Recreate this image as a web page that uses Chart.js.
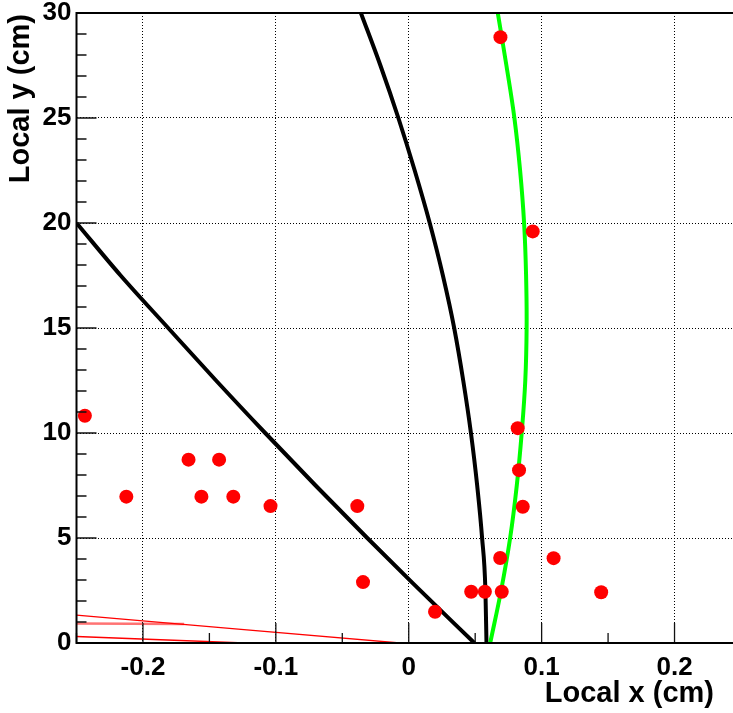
<!DOCTYPE html>
<html>
<head>
<meta charset="utf-8">
<script src="https://cdn.jsdelivr.net/npm/chart.js@4"></script>
<style>
  html, body { margin: 0; padding: 0; background: #fff; overflow: hidden; }
  #plot { display: block; }
</style>
</head>
<body>
<canvas id="plot" width="740" height="713"></canvas>
<script>
// axis ranges and ticks
const xMin = -0.25
const xMax = 0.244
const yMin = 0
const yMax = 30
const xTickValues = [-0.2, -0.1, 0, 0.1, 0.2]
const xTickLabels = ['-0.2', '-0.1', '0', '0.1', '0.2']
const yTickValues = [0, 5, 10, 15, 20, 25, 30]
const yTickLabels = ['0', '5', '10', '15', '20', '25', '30']
const xMinorStep = 0.05
const yMinorStep = 1
const xTitle = 'Local x (cm)'
const yTitle = 'Local y (cm)'

// red hits
const hitX = [-0.2437, -0.2125, -0.1657, -0.1427, -0.156, -0.132, -0.104, -0.0387, -0.0344, 0.0198,
              0.047, 0.0573, 0.070, 0.0688, 0.109, 0.1448, 0.0858, 0.083, 0.082, 0.0933, 0.069]
const hitY = [10.82, 6.97, 8.73, 8.73, 6.97, 6.97, 6.52, 6.52, 2.9, 1.49,
              2.44, 2.44, 2.44, 4.05, 4.04, 2.42, 6.49, 8.23, 10.23, 19.6, 28.85]

// green fitted track
const fitX = [0.067, 0.0735, 0.0795, 0.0838, 0.0868, 0.0883, 0.0887, 0.0877, 0.085, 0.0813, 0.0763, 0.0695, 0.0613]
const fitY = [30, 27.5, 25, 22.5, 20, 17.5, 15, 12.5, 10, 7.5, 5, 2.5, 0]

// black candidate tracks
const trackAX = [-0.25, -0.2168, -0.181, -0.145, -0.108, -0.0701, -0.0312, 0.003, 0.0494]
const trackAY = [20, 17.5, 15, 12.5, 10, 7.5, 5, 2.85, 0]
const trackBX = [-0.036, -0.0213, -0.0078, 0.0045, 0.0158, 0.0257, 0.0342, 0.041, 0.0468, 0.0515, 0.0552, 0.0577, 0.0585]
const trackBY = [30, 27.5, 25, 22.5, 20, 17.5, 15, 12.5, 10, 7.5, 5, 2.5, 0]

// thin red segments near the bottom
const segAX = [-0.25, -0.0068]
const segAY = [1.33, 0]
const segBX = [-0.25, -0.169]
const segBY = [0.93, 0.91]
const segCX = [-0.25, -0.1235]
const segCY = [0.31, 0]

const fontFamily = '"Liberation Sans", Arial, sans-serif'

function toPoints(xs, ys) {
    return xs.map((v, i) => ({x: v, y: ys[i]}))
}

function curve(xs, ys, color, width, mode) {
    return {
        data: toPoints(xs, ys),
        showLine: true,
        borderColor: color,
        borderWidth: width,
        pointRadius: 0,
        pointHoverRadius: 0,
        cubicInterpolationMode: mode || 'default',
        tension: 0.4,
        fill: false
    }
}

/** ticks drawn inside the frame, axis lines and axis titles */
const frameAxes = {
    id: 'frameAxes',
    afterDatasetsDraw(chart) {
        const {ctx, chartArea: a, scales} = chart
        const x = scales.x, y = scales.y
        ctx.save()
        ctx.strokeStyle = '#111'
        ctx.lineWidth = 1.3
        ctx.beginPath()
        for (let v = xMin; v <= xMax + 1e-9; v += xMinorStep) {
            const p = x.getPixelForValue(v)
            const major = xTickValues.some(t => Math.abs(t - v) < 1e-6)
            ctx.moveTo(p, a.bottom)
            ctx.lineTo(p, a.bottom - (major ? 20 : 10))
        }
        for (let v = yMin; v <= yMax + 1e-9; v += yMinorStep) {
            const p = y.getPixelForValue(v)
            const major = yTickValues.some(t => Math.abs(t - v) < 1e-6)
            ctx.moveTo(a.left, p)
            ctx.lineTo(a.left + (major ? 20 : 10), p)
        }
        ctx.stroke()

        ctx.lineWidth = 2
        ctx.strokeStyle = '#000'
        ctx.beginPath()
        ctx.moveTo(a.right, a.top)
        ctx.lineTo(a.left, a.top)
        ctx.lineTo(a.left, a.bottom)
        ctx.lineTo(a.right, a.bottom)
        ctx.stroke()

        ctx.fillStyle = '#000'
        ctx.font = 'bold 29px ' + fontFamily
        ctx.textAlign = 'right'
        ctx.textBaseline = 'middle'
        ctx.fillText(xTitle, 714, 694)

        ctx.translate(21, 14)
        ctx.rotate(-Math.PI / 2)
        ctx.fillText(yTitle, 0, 0)
        ctx.restore()
    }
}

window.onload = () => {
    const ctx = document.getElementById('plot').getContext('2d')
    new Chart(ctx, {
        type: 'scatter',
        data: {
            datasets: [
                {
                    data: toPoints(hitX, hitY),
                    backgroundColor: '#ff0000',
                    borderWidth: 0,
                    pointRadius: 7,
                    pointHoverRadius: 7
                },
                curve(fitX, fitY, '#00ff00', 4),
                curve(trackBX, trackBY, '#000000', 4, 'monotone'),
                curve(trackAX, trackAY, '#000000', 4, 'monotone'),
                curve(segAX, segAY, '#ff0000', 1.3),
                curve(segBX, segBY, 'rgba(255,0,0,0.55)', 2.5),
                curve(segCX, segCY, '#ff0000', 1.3)
            ]
        },
        options: {
            responsive: false,
            animation: false,
            devicePixelRatio: 1,
            layout: { padding: { top: 13, left: 0, right: 0, bottom: 0 } },
            plugins: {
                legend: { display: false },
                tooltip: { enabled: false }
            },
            scales: {
                x: {
                    type: 'linear',
                    min: xMin,
                    max: xMax,
                    afterBuildTicks: s => { s.ticks = xTickValues.map(v => ({value: v})) },
                    afterFit: s => { s.height = 70; s.paddingLeft = 0; s.paddingRight = 0 },
                    ticks: {
                        callback: (v, i) => xTickLabels[i],
                        color: '#000',
                        padding: 9,
                        maxRotation: 0,
                        font: { family: fontFamily, size: 26, weight: 'bold' }
                    },
                    grid: { color: '#000', lineWidth: 1, drawTicks: false },
                    border: { display: false, dash: [1, 2] }
                },
                y: {
                    type: 'linear',
                    min: yMin,
                    max: yMax,
                    afterBuildTicks: s => { s.ticks = yTickValues.map(v => ({value: v})) },
                    afterFit: s => { s.width = 76.5; s.paddingTop = 0; s.paddingBottom = 0 },
                    ticks: {
                        callback: (v, i) => yTickLabels[i],
                        color: '#000',
                        padding: 5,
                        font: { family: fontFamily, size: 26, weight: 'bold' }
                    },
                    grid: { color: '#000', lineWidth: 1, drawTicks: false },
                    border: { display: false, dash: [1, 2] }
                }
            }
        },
        plugins: [frameAxes]
    })
}
</script>
</body>
</html>
